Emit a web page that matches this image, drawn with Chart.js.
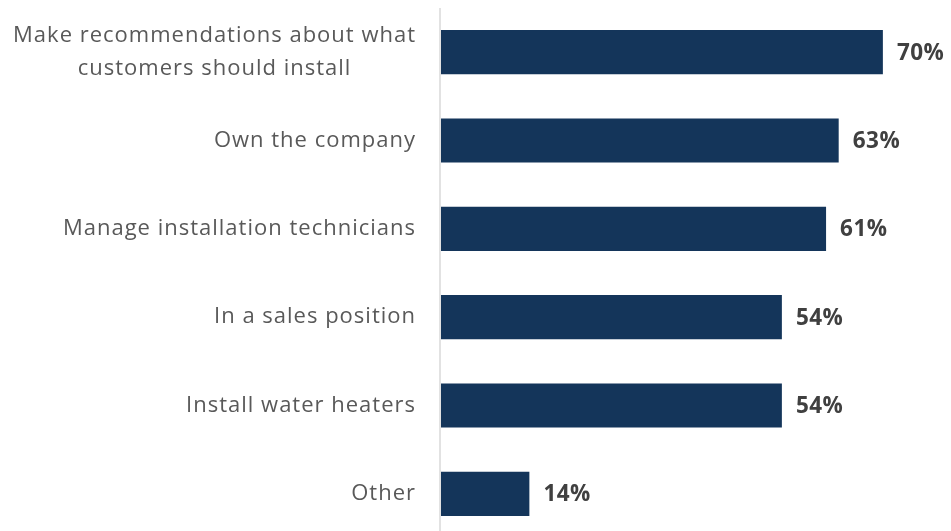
<!DOCTYPE html>
<html>
<head>
<meta charset="utf-8">
<script src="https://cdn.jsdelivr.net/npm/chart.js@4"></script>
<style>
html,body{margin:0;padding:0;background:#fff;overflow:hidden;}
#wrap{width:951px;height:545px;position:relative;}
</style>
</head>
<body>
<div id="wrap"><canvas id="c" width="951" height="545"></canvas></div>
<script>
const categories = [
  ["Make recommendations about what", "customers should install"],
  ["Own the company"],
  ["Manage installation technicians"],
  ["In a sales position"],
  ["Install water heaters"],
  ["Other"]
];
const values = [70, 63, 61, 54, 54, 14];
const valueLabels = ["70%", "63%", "61%", "54%", "54%", "14%"];

const labelFont = '22px "Open Sans"';
const valueFont = 'bold 22.5px "Open Sans"';

const drawPlugin = {
  id: 'drawPlugin',
  afterDatasetsDraw(chart) {
    const ctx = chart.ctx;
    const ca = chart.chartArea;
    const yScale = chart.scales.y;
    ctx.save();
    ctx.strokeStyle = '#d9d9d9';
    ctx.lineWidth = 1.5;
    ctx.beginPath();
    ctx.moveTo(ca.left - 1, ca.top);
    ctx.lineTo(ca.left - 1, ca.bottom);
    ctx.stroke();
    ctx.font = labelFont;
    ctx.fillStyle = '#595959';
    ctx.textBaseline = 'middle';
    ctx.letterSpacing = '1px';
    const rightX = 416;
    const lineH = 33;
    categories.forEach((lines, i) => {
      const yc = yScale.getPixelForValue(i);
      if (lines.length === 1) {
        ctx.textAlign = 'right';
        ctx.fillText(lines[0], rightX, yc);
      } else {
        const widths = lines.map(l => ctx.measureText(l).width);
        const maxW = Math.max(...widths);
        const cx = rightX - maxW / 2;
        ctx.textAlign = 'center';
        lines.forEach((l, k) => {
          ctx.fillText(l, cx, yc + (k - (lines.length - 1) / 2) * lineH);
        });
      }
    });
    ctx.font = valueFont;
    ctx.fillStyle = '#404040';
    ctx.textAlign = 'left';
    ctx.letterSpacing = '0.5px';
    const meta = chart.getDatasetMeta(0);
    meta.data.forEach((bar, i) => {
      ctx.fillText(valueLabels[i], bar.x + 14, bar.y + 1);
    });
    ctx.restore();
  }
};

new Chart(document.getElementById('c'), {
  type: 'bar',
  data: {
    labels: categories.map(c => c.join(' ')),
    datasets: [{
      data: values,
      backgroundColor: '#14355a',
      borderWidth: 0,
      categoryPercentage: 1.0,
      barPercentage: 0.5
    }]
  },
  options: {
    indexAxis: 'y',
    responsive: false,
    animation: false,
    layout: { padding: { left: 441, right: 5, top: 8, bottom: 7 } },
    plugins: { legend: { display: false }, tooltip: { enabled: false } },
    scales: {
      x: { display: false, min: 0, max: 80 },
      y: { display: false }
    }
  },
  plugins: [drawPlugin]
});
</script>
</body>
</html>
